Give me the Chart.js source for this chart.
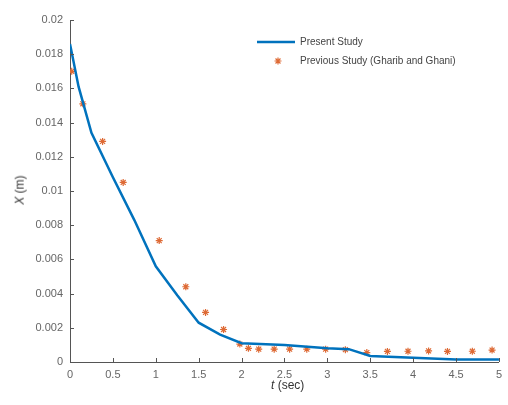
<!DOCTYPE html>
<html>
<head>
<meta charset="utf-8">
<script src="https://cdn.jsdelivr.net/npm/chart.js@4.4.0/dist/chart.umd.min.js"></script>
<style>
    body { margin: 0; background: #fff; }
    #wrap { position: relative; width: 508px; height: 405px; }
    .lbl { position: absolute; font-family: "Liberation Sans", Arial, sans-serif; color: #333; white-space: nowrap; }
    .legend { font-size: 10px; color: #444; }
</style>
</head>
<body>
<div id="wrap">
    <canvas id="chart" width="508" height="405"></canvas>
    <div class="lbl" style="left:5px;top:183px;font-size:12px;transform:rotate(-90deg);"><i>X</i> (m)</div>
    <div class="lbl" style="left:271px;top:378px;font-size:12px;"><i>t</i> (sec)</div>
    <div class="lbl legend" style="left:300px;top:36px;">Present Study</div>
    <div class="lbl legend" style="left:300px;top:55px;">Previous Study (Gharib and Ghani)</div>
</div>
<script>
// Present study (line)
const presentT = [0, 0.1, 0.25, 0.5, 0.75, 1, 1.25, 1.5, 1.75, 2, 2.5, 3, 3.25, 3.5, 4, 4.5, 5];
const presentX = [0.0186, 0.0161, 0.0134, 0.0108, 0.0083, 0.0056, 0.0039, 0.0023, 0.0016, 0.0011, 0.00100, 0.00080, 0.00075, 0.00035, 0.00025, 0.00015, 0.00015];

// Previous study (Gharib and Ghani) markers
const previousT = [0.02, 0.15, 0.38, 0.62, 1.04, 1.35, 1.58, 1.79, 1.98, 2.08, 2.2, 2.38, 2.56, 2.76, 2.98, 3.21, 3.46, 3.70, 3.94, 4.18, 4.40, 4.69, 4.92];
const previousX = [0.0170, 0.0151, 0.0129, 0.0105, 0.0071, 0.0044, 0.0029, 0.0019, 0.00105, 0.0008, 0.00075, 0.00075, 0.00075, 0.00075, 0.00075, 0.00072, 0.00055, 0.00062, 0.00063, 0.00065, 0.00062, 0.00063, 0.00070];

// Tick values and labels
const xTicks = [0, 0.5, 1, 1.5, 2, 2.5, 3, 3.5, 4, 4.5, 5];
const xTickLabels = ['0', '0.5', '1', '1.5', '2', '2.5', '3', '3.5', '4', '4.5', '5'];
const yTicks = [0, 0.002, 0.004, 0.006, 0.008, 0.01, 0.012, 0.014, 0.016, 0.018, 0.02];
const yTickLabels = ['0', '0.002', '0.004', '0.006', '0.008', '0.01', '0.012', '0.014', '0.016', '0.018', '0.02'];

const blue = '#0072BD';
const orange = '#DE6A35';
const axisColor = '#555';

// Inward tick marks plus legend samples
const extras = {
    id: 'extras',
    afterDatasetsDraw(chart) {
        const ctx = chart.ctx;
        const xs = chart.scales.x;
        const ys = chart.scales.y;
        const area = chart.chartArea;
        ctx.save();
        ctx.strokeStyle = axisColor;
        ctx.lineWidth = 1;
        xTicks.forEach(v => {
            const px = Math.round(xs.getPixelForValue(v)) + 0.5;
            ctx.beginPath();
            ctx.moveTo(px, area.bottom);
            ctx.lineTo(px, area.bottom - 4);
            ctx.stroke();
        });
        yTicks.forEach(v => {
            const py = Math.round(ys.getPixelForValue(v)) + 0.5;
            ctx.beginPath();
            ctx.moveTo(area.left, py);
            ctx.lineTo(area.left + 4, py);
            ctx.stroke();
        });
        // legend samples
        ctx.strokeStyle = blue;
        ctx.lineWidth = 2.5;
        ctx.beginPath();
        ctx.moveTo(257, 42);
        ctx.lineTo(295, 42);
        ctx.stroke();
        ctx.strokeStyle = orange;
        ctx.fillStyle = orange;
        ctx.lineWidth = 1.2;
        Chart.helpers.drawPoint(ctx, { pointStyle: 'star', radius: 3.5, borderWidth: 1.2 }, 278, 61);
        ctx.restore();
    }
};

new Chart(document.getElementById('chart'), {
    type: 'scatter',
    data: {
        datasets: [{
            label: 'Present Study',
            data: presentT.map((t, i) => ({ x: t, y: presentX[i] })),
            showLine: true,
            borderColor: blue,
            borderWidth: 2.5,
            pointRadius: 0,
            tension: 0
        }, {
            label: 'Previous Study (Gharib and Ghani)',
            data: previousT.map((t, i) => ({ x: t, y: previousX[i] })),
            showLine: false,
            pointStyle: 'star',
            pointRadius: 3.5,
            borderColor: orange,
            backgroundColor: orange,
            borderWidth: 1.2
        }]
    },
    options: {
        responsive: false,
        animation: false,
        layout: { padding: { left: 0, right: 4, top: 20, bottom: 0 } },
        plugins: {
            legend: { display: false },
            tooltip: { enabled: false }
        },
        scales: {
            x: {
                type: 'linear',
                min: 0,
                max: 5,
                afterBuildTicks: scale => { scale.ticks = xTicks.map(v => ({ value: v })); },
                afterFit: scale => { scale.height = 43; },
                grid: { display: false, drawTicks: false },
                border: { display: true, color: axisColor, width: 1 },
                ticks: {
                    padding: 6,
                    color: '#666',
                    font: { family: '"Liberation Sans", Arial, sans-serif', size: 11 },
                    maxRotation: 0,
                    callback: (v, i) => xTickLabels[i]
                }
            },
            y: {
                type: 'linear',
                min: 0,
                max: 0.02,
                afterBuildTicks: scale => { scale.ticks = yTicks.map(v => ({ value: v })); },
                afterFit: scale => { scale.width = 70; },
                grid: { display: false, drawTicks: false },
                border: { display: true, color: axisColor, width: 1 },
                ticks: {
                    padding: 7,
                    color: '#666',
                    font: { family: '"Liberation Sans", Arial, sans-serif', size: 11 },
                    callback: (v, i) => yTickLabels[i]
                }
            }
        }
    },
    plugins: [extras]
});
</script>
</body>
</html>
